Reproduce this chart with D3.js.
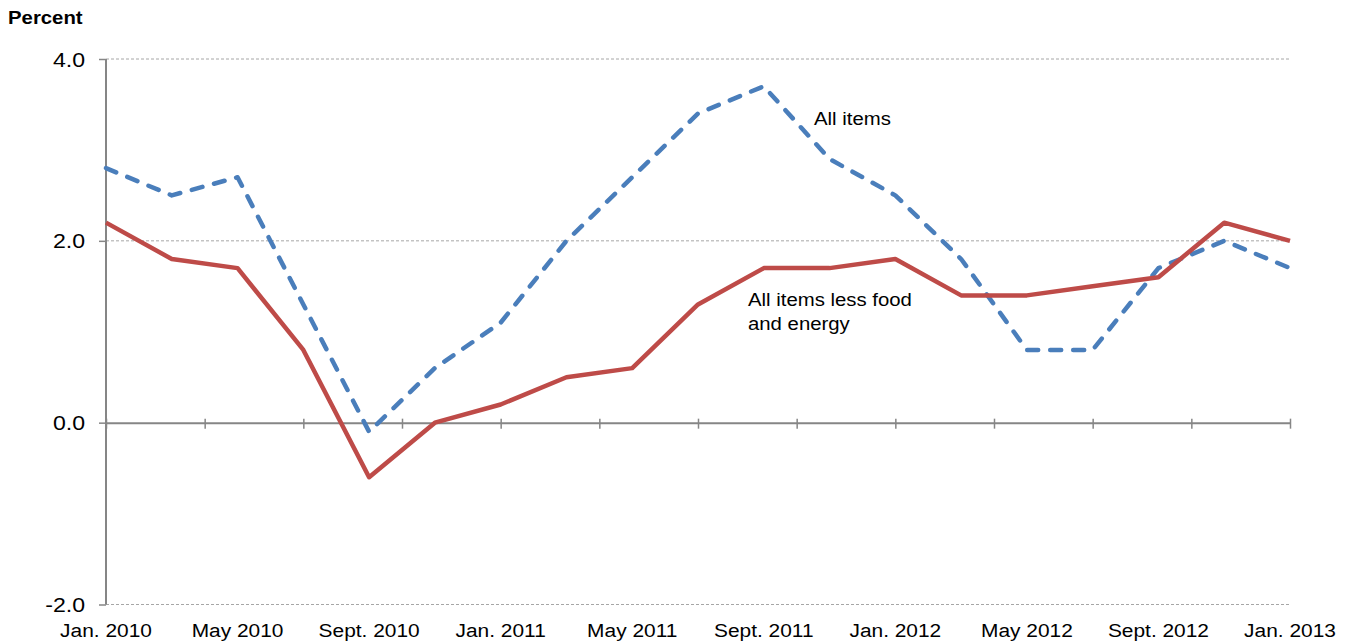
<!DOCTYPE html>
<html>
<head>
<meta charset="utf-8">
<script src="https://cdn.jsdelivr.net/npm/d3@7"></script>
<style>
  html, body { margin: 0; padding: 0; background: #fff; }
  svg { display: block; font-family: "Liberation Sans", Arial, sans-serif; }
</style>
</head>
<body>
<svg id="chart" width="1349" height="641"></svg>
<script>
// ---- data ----
const dates = ["2010-01","2010-03","2010-05","2010-07","2010-09","2010-11",
               "2011-01","2011-03","2011-05","2011-07","2011-09","2011-11",
               "2012-01","2012-03","2012-05","2012-07","2012-09","2012-11","2013-01"];
const allItems = [2.8, 2.5, 2.7, 1.3, -0.1, 0.6, 1.1, 2.0, 2.7, 3.4, 3.7, 2.9, 2.5, 1.8, 0.8, 0.8, 1.7, 2.0, 1.7];
const coreItems = [2.2, 1.8, 1.7, 0.8, -0.6, 0.0, 0.2, 0.5, 0.6, 1.3, 1.7, 1.7, 1.8, 1.4, 1.4, 1.5, 1.6, 2.2, 2.0];
const xTickLabels = ["Jan. 2010","May 2010","Sept. 2010","Jan. 2011","May 2011","Sept. 2011",
                     "Jan. 2012","May 2012","Sept. 2012","Jan. 2013"];
const yTicks = [-2.0, 0.0, 2.0, 4.0];
const yTickLabels = ["-2.0", "0.0", "2.0", "4.0"];
const seriesNames = ["All items", "All items less food", "and energy"];

(function () {
// ---- helpers ----
const monthIndex = s => { const [yy, m] = s.split("-").map(Number); return (yy - 2010) * 12 + (m - 1); };
const svg = d3.select("#chart");
const pLeft = 106, pRight = 1290, pTop = 59, pBottom = 604.5;
const x = d3.scaleLinear().domain([0, 36]).range([pLeft, pRight]);
const y = d3.scaleLinear().domain([-2, 4]).range([pBottom, pTop]);
const axisColor = "#868686";
const SX = 1.1;

function label(g, tx, ty, text, opts = {}) {
  return g.append("text")
    .attr("transform", `translate(${tx},${ty}) scale(${opts.sx || SX},1)`)
    .attr("text-anchor", opts.anchor || "start")
    .attr("font-size", opts.size || 19)
    .attr("font-weight", opts.weight || "normal")
    .attr("fill", "#000")
    .text(text);
}

// ---- gridlines (dashed) ----
svg.append("g").selectAll("line")
  .data(yTicks.filter(v => v !== 0))
  .join("line")
  .attr("x1", pLeft).attr("x2", pRight)
  .attr("y1", d => y(d)).attr("y2", d => y(d))
  .attr("stroke", "#a6a6a6").attr("stroke-width", 1)
  .attr("stroke-dasharray", "3,2");

// ---- y axis ----
const yAxis = d3.axisLeft(y).tickValues(yTicks).tickSize(7).tickFormat("");
const yg = svg.append("g").attr("transform", `translate(${pLeft},0)`).call(yAxis);
yg.select(".domain").attr("stroke", axisColor).attr("stroke-width", 2).attr("d", `M0,${pTop}V${pBottom}`);
yg.selectAll(".tick line").attr("stroke", axisColor).attr("stroke-width", 1.5);
yTicks.forEach((v, i) => label(svg, 85, y(v) + 7.5, yTickLabels[i], { anchor: "end", size: 21 }));

// ---- x axis at zero ----
const xAxis = d3.axisBottom(x).tickValues(d3.range(0, 37, 3)).tickSize(0).tickFormat("");
const xg = svg.append("g").attr("transform", `translate(0,${y(0)})`).call(xAxis);
xg.select(".domain").attr("stroke", axisColor).attr("stroke-width", 2);
xg.selectAll(".tick line").attr("stroke", axisColor).attr("stroke-width", 1.5)
  .attr("y1", -4).attr("y2", 6);
xTickLabels.forEach((t, i) => label(svg, x(i * 4), 637, t, { anchor: "middle" }));

// ---- title ----
label(svg, 8, 24, "Percent", { weight: "bold", size: 18.5, sx: 1.1 });

// ---- lines ----
const line = d3.line().x((d, i) => x(monthIndex(dates[i]))).y(d => y(d));
svg.append("path").datum(allItems)
  .attr("d", line).attr("fill", "none")
  .attr("stroke", "#4a7ebb").attr("stroke-width", 4.5)
  .attr("stroke-dasharray", "11,12").attr("stroke-linecap", "round")
  .attr("stroke-linejoin", "round");
svg.append("path").datum(coreItems)
  .attr("d", line).attr("fill", "none")
  .attr("stroke", "#be4b48").attr("stroke-width", 4.5)
  .attr("stroke-linejoin", "round");

// ---- series labels ----
label(svg, 814, 125, seriesNames[0], { size: 18.5, sx: 1.1 });
label(svg, 748, 306, seriesNames[1], { size: 18.5, sx: 1.1 });
label(svg, 748, 330, seriesNames[2], { size: 18.5, sx: 1.1 });
})();
</script>
</body>
</html>
